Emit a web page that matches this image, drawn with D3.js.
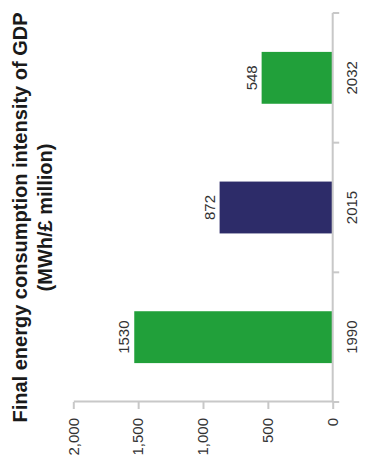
<!DOCTYPE html>
<html lang="en">
<head>
    <meta charset="UTF-8">
    <title>Final energy consumption intensity of GDP</title>
    <script src="https://d3js.org/d3.v7.min.js"></script>
    <style>
        body, html {
            margin: 0;
            padding: 0;
            background: #ffffff;
        }
        svg {
            display: block;
            font-family: "Liberation Sans", Arial, Helvetica, sans-serif;
        }
        .axis path, .axis line {
            stroke: #c8c8c8;
            stroke-width: 2;
        }
        .axis text {
            font-size: 15px;
            fill: #333333;
        }
    </style>
</head>
<body>
<svg></svg>
<script>
    // chart data
    const years = ["1990", "2015", "2032"];
    const intensity = [1530, 872, 548];
    const barColors = ["#21a03a", "#2d2c69", "#21a03a"];
    const valueTicks = [0, 500, 1000, 1500, 2000];
    const titleLines = ["Final energy consumption intensity of GDP", "(MWh/£ million)"];

    const W = 382, H = 473;
    const svgEl = d3.select("svg").attr("width", W).attr("height", H);

    // the chart is drawn as a normal column chart and then turned a quarter to the left
    const g = svgEl.append("g")
        .attr("transform", `translate(0,${H}) rotate(-90)`);

    const x = d3.scaleBand()
        .domain(years)
        .range([71, 460])
        .paddingInner(0.6)
        .paddingOuter(0.3);

    const y = d3.scaleLinear()
        .domain([0, 2000])
        .range([332.7, 73.3]);

    // title
    g.append("g")
        .selectAll("text")
        .data(titleLines)
        .enter().append("text")
        .attr("x", 255.5)
        .attr("y", (d, i) => 27 + i * 25)
        .attr("text-anchor", "middle")
        .style("font-size", "20px")
        .style("font-weight", "bold")
        .style("fill", "#1a1a1a")
        .text(d => d);

    // bars
    g.selectAll(".bar")
        .data(years)
        .enter().append("rect")
        .attr("class", "bar")
        .attr("x", d => x(d))
        .attr("width", x.bandwidth())
        .attr("y", (d, i) => y(intensity[i]))
        .attr("height", (d, i) => y(0) - y(intensity[i]))
        .attr("fill", (d, i) => barColors[i]);

    // value labels
    g.selectAll(".val")
        .data(years)
        .enter().append("text")
        .attr("class", "val")
        .attr("x", d => x(d) + x.bandwidth() / 2)
        .attr("y", (d, i) => y(intensity[i]) - 5)
        .attr("text-anchor", "middle")
        .style("font-size", "15px")
        .style("fill", "#333333")
        .text((d, i) => intensity[i]);

    // value axis
    g.append("g")
        .attr("class", "axis")
        .attr("transform", "translate(71,0)")
        .call(d3.axisLeft(y)
            .tickValues(valueTicks)
            .tickFormat(d3.format(","))
            .tickSize(7)
            .tickSizeOuter(0)
            .tickPadding(9));

    // category axis: labels at band centres, ticks on band edges
    const catAxis = g.append("g")
        .attr("class", "axis")
        .attr("transform", `translate(0,${y(0)})`)
        .call(d3.axisBottom(x).tickSize(0).tickPadding(14));
    catAxis.select(".domain").remove();

    const edges = d3.range(years.length + 1).map(i => x.range()[0] + i * x.step());
    catAxis.append("path")
        .attr("d", `M${x.range()[0]},0H${x.range()[1]}`)
        .attr("fill", "none");
    catAxis.selectAll(".edge")
        .data(edges)
        .enter().append("line")
        .attr("class", "edge")
        .attr("x1", d => d)
        .attr("x2", d => d)
        .attr("y1", 0)
        .attr("y2", 6.5);
</script>
</body>
</html>
